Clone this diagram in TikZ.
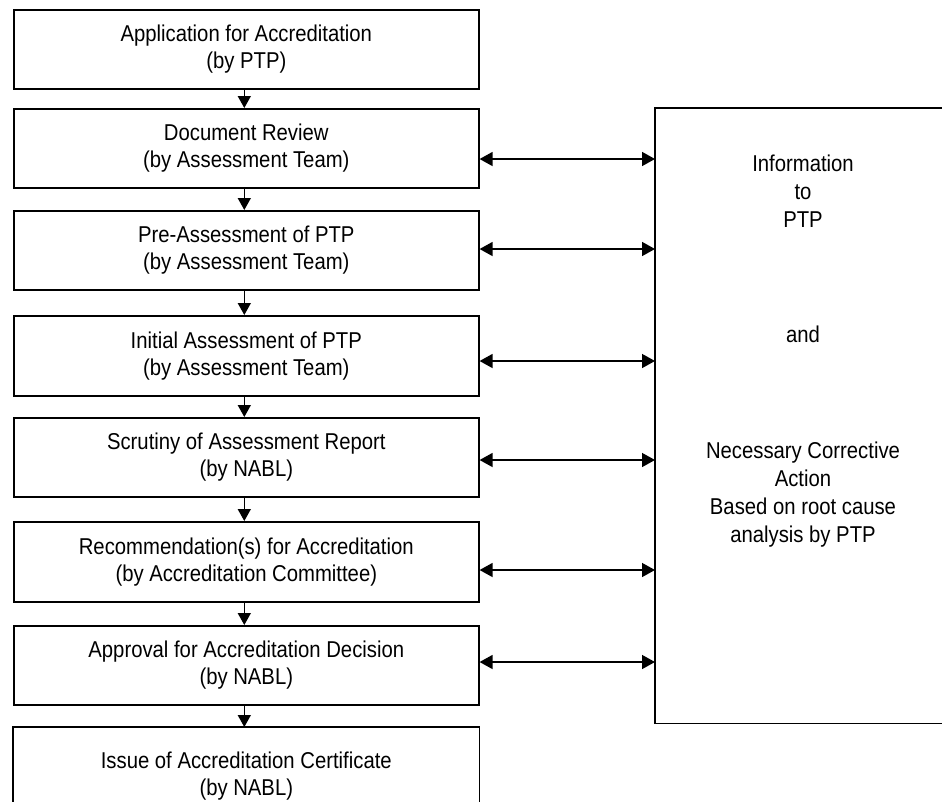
\documentclass[tikz,border=0pt]{standalone}
\usepackage{fontspec}
\setmainfont[FakeStretch=0.886]{Liberation Sans}
\usetikzlibrary{arrows.meta}
\begin{document}
\begin{tikzpicture}[x=1pt,y=-1pt,
  every node/.style={font=\fontsize{22.9}{27}\selectfont},
  stage/.style={draw, line width=1.6pt, minimum width=465pt, minimum height=79pt,
    inner sep=0pt, align=center, anchor=north west},
  openbox/.style={line width=1.6pt, minimum width=465pt, inner sep=0pt,
    align=center, anchor=north west},
  infobox/.style={minimum width=287pt, minimum height=615pt, inner sep=0pt, anchor=north west},
  infotext/.style={inner sep=0pt, align=center, font=\fontsize{22.9}{27.8}\selectfont},
  down/.style={line width=1.5pt, -{Triangle[width=13pt,length=12pt]}},
  both/.style={line width=1.5pt, {Triangle[width=14pt,length=13pt]}-{Triangle[width=14pt,length=13pt]}}
]
\clip (0,0) rectangle (942,801);

% left column
\node[stage] (b1) at (13,9)   {Application for Accreditation\\(by PTP)};
\node[stage] (b2) at (13,108) {Document Review\\(by Assessment Team)};
\node[stage] (b3) at (13,210) {Pre-Assessment of PTP\\(by Assessment Team)};
\node[stage, minimum height=80pt] (b4) at (13,315) {Initial Assessment of PTP\\(by Assessment Team)};
\node[stage] (b5) at (13,417) {Scrutiny of Assessment Report\\(by NABL)};
\node[stage, minimum height=80pt] (b6) at (13,521) {Recommendation(s) for Accreditation\\(by Accreditation Committee)};
\node[stage] (b7) at (13,625) {Approval for Accreditation Decision\\(by NABL)};
\node[openbox, minimum height=96pt] (b8) at (13,727) {Issue of Accreditation Certificate\\(by NABL)};
\draw[line width=1.6pt] (b8.south west) -- (b8.north west) -- (b8.north east) -- (b8.south east);

% right box
\node[infobox] (info) at (655,108) {};
\draw[line width=1.6pt] (info.north east) -- (info.north west) -- (info.south west) -- (info.south east);
\node[infotext] (t1) at (803,191) {Information\\to\\PTP};
\node[infotext] (t2) at (803,334.7) {and};
\node[infotext] (t3) at (803,494.5) {Necessary Corrective\\Action\\Based on root cause\\analysis by PTP};

% vertical arrows
\draw[down] ([xshift=-2pt]b1.south) -- ([xshift=-2pt]b2.north);
\draw[down] ([xshift=-2pt]b2.south) -- ([xshift=-2pt]b3.north);
\draw[down] ([xshift=-2pt]b3.south) -- ([xshift=-2pt]b4.north);
\draw[down] ([xshift=-2pt]b4.south) -- ([xshift=-2pt]b5.north);
\draw[down] ([xshift=-2pt]b5.south) -- ([xshift=-2pt]b6.north);
\draw[down] ([xshift=-2pt]b6.south) -- ([xshift=-2pt]b7.north);
\draw[down] ([xshift=-2pt]b7.south) -- ([xshift=-2pt]b8.north);

% horizontal double arrows
\coordinate (a2) at ([yshift=-51pt]b2.north east);
\coordinate (a3) at ([yshift=-39pt]b3.north east);
\coordinate (a4) at ([yshift=-46pt]b4.north east);
\coordinate (a5) at ([yshift=-43pt]b5.north east);
\coordinate (a6) at ([yshift=-49pt]b6.north east);
\coordinate (a7) at ([yshift=-37pt]b7.north east);
\draw[both] (a2) -- (a2 -| info.west);
\draw[both] (a3) -- (a3 -| info.west);
\draw[both] (a4) -- (a4 -| info.west);
\draw[both] (a5) -- (a5 -| info.west);
\draw[both] (a6) -- (a6 -| info.west);
\draw[both] (a7) -- (a7 -| info.west);
\end{tikzpicture}
\end{document}
